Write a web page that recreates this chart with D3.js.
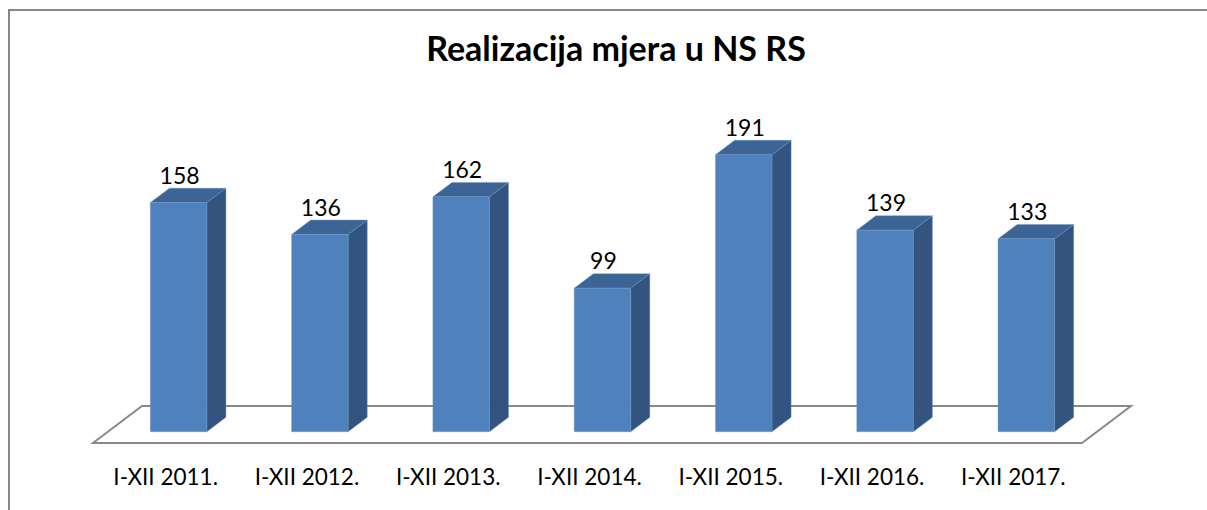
<!DOCTYPE html>
<html><head><meta charset="utf-8">
<script src="https://cdn.jsdelivr.net/npm/d3@7"></script>
<style>body{margin:0;background:#fff;}svg{display:block;}</style>
</head><body>
<script>
const categories = ["I-XII 2011.","I-XII 2012.","I-XII 2013.","I-XII 2014.","I-XII 2015.","I-XII 2016.","I-XII 2017."];
const values = [158,136,162,99,191,139,133];
const title = "Realizacija mjera u NS RS";

const W=1207,H=510;
const svg=d3.select("body").append("svg").attr("width",W).attr("height",H);
svg.append("rect").attr("width",W).attr("height",H).attr("fill","#fff");
// chart frame (left + top visible)
svg.append("path").attr("d","M9,"+H+" L9,10 L"+W+",10").attr("fill","none").attr("stroke","#868686").attr("stroke-width",2);

const x=d3.scaleBand().domain(categories).range([93,1082]).paddingInner(0.6).paddingOuter(0.3);
const y=d3.scaleLinear().domain([0,200]).range([443,153]);
// depth projection: full floor depth vector
const DX=49, DY=-37;
const z0=0.305, z1=0.695;
const P=(px,py,z)=>[px+DX*z, py+DY*z];

// floor
const floor=[P(93,443,0),P(1082,443,0),P(1082,443,1),P(93,443,1)];
svg.append("path").attr("d","M"+floor.map(p=>p.join(",")).join("L")+"Z")
  .attr("fill","#fff").attr("stroke","#898989").attr("stroke-width",2);

const g=svg.append("g");
categories.forEach((c,i)=>{
  const v=values[i];
  const xl=x(c), xr=x(c)+x.bandwidth();
  const yb=y(0), yt=y(v);
  const fa=P(xl,yt,z0), fb=P(xr,yt,z0), fc=P(xr,yb,z0), fd=P(xl,yb,z0);
  const ba=P(xl,yt,z1), bb=P(xr,yt,z1), bc=P(xr,yb,z1);
  const poly=(pts,fill)=>g.append("path").attr("d","M"+pts.map(p=>p.join(",")).join("L")+"Z")
     .attr("fill",fill).attr("stroke","#6a93c8").attr("stroke-opacity",0.5).attr("stroke-width",0.8);
  poly([fb,bb,bc,fc],"#32547f");
  poly([fa,ba,bb,fb],"#3c6595");
  poly([fa,fb,fc,fd],"#4f81bd");
  g.append("text").attr("x",(fa[0]+fb[0])/2+1).attr("y",fa[1]-19)
    .attr("text-anchor","middle").attr("font-family","Lato, 'Open Sans', sans-serif")
    .attr("font-size",23).attr("fill","#000").text(v);
});

// category labels
categories.forEach(c=>{
  svg.append("text").attr("x",x(c)+x.bandwidth()/2+2).attr("y",485)
    .attr("text-anchor","middle").attr("font-family","Lato, 'Open Sans', sans-serif")
    .attr("font-size",22.5).attr("fill","#000").text(c);
});

svg.append("text").attr("x",616).attr("y",61).attr("text-anchor","middle")
  .attr("font-family","Lato, 'Open Sans', sans-serif").attr("font-weight","bold")
  .attr("font-size",34).attr("fill","#000").text(title);
</script>
</body></html>
